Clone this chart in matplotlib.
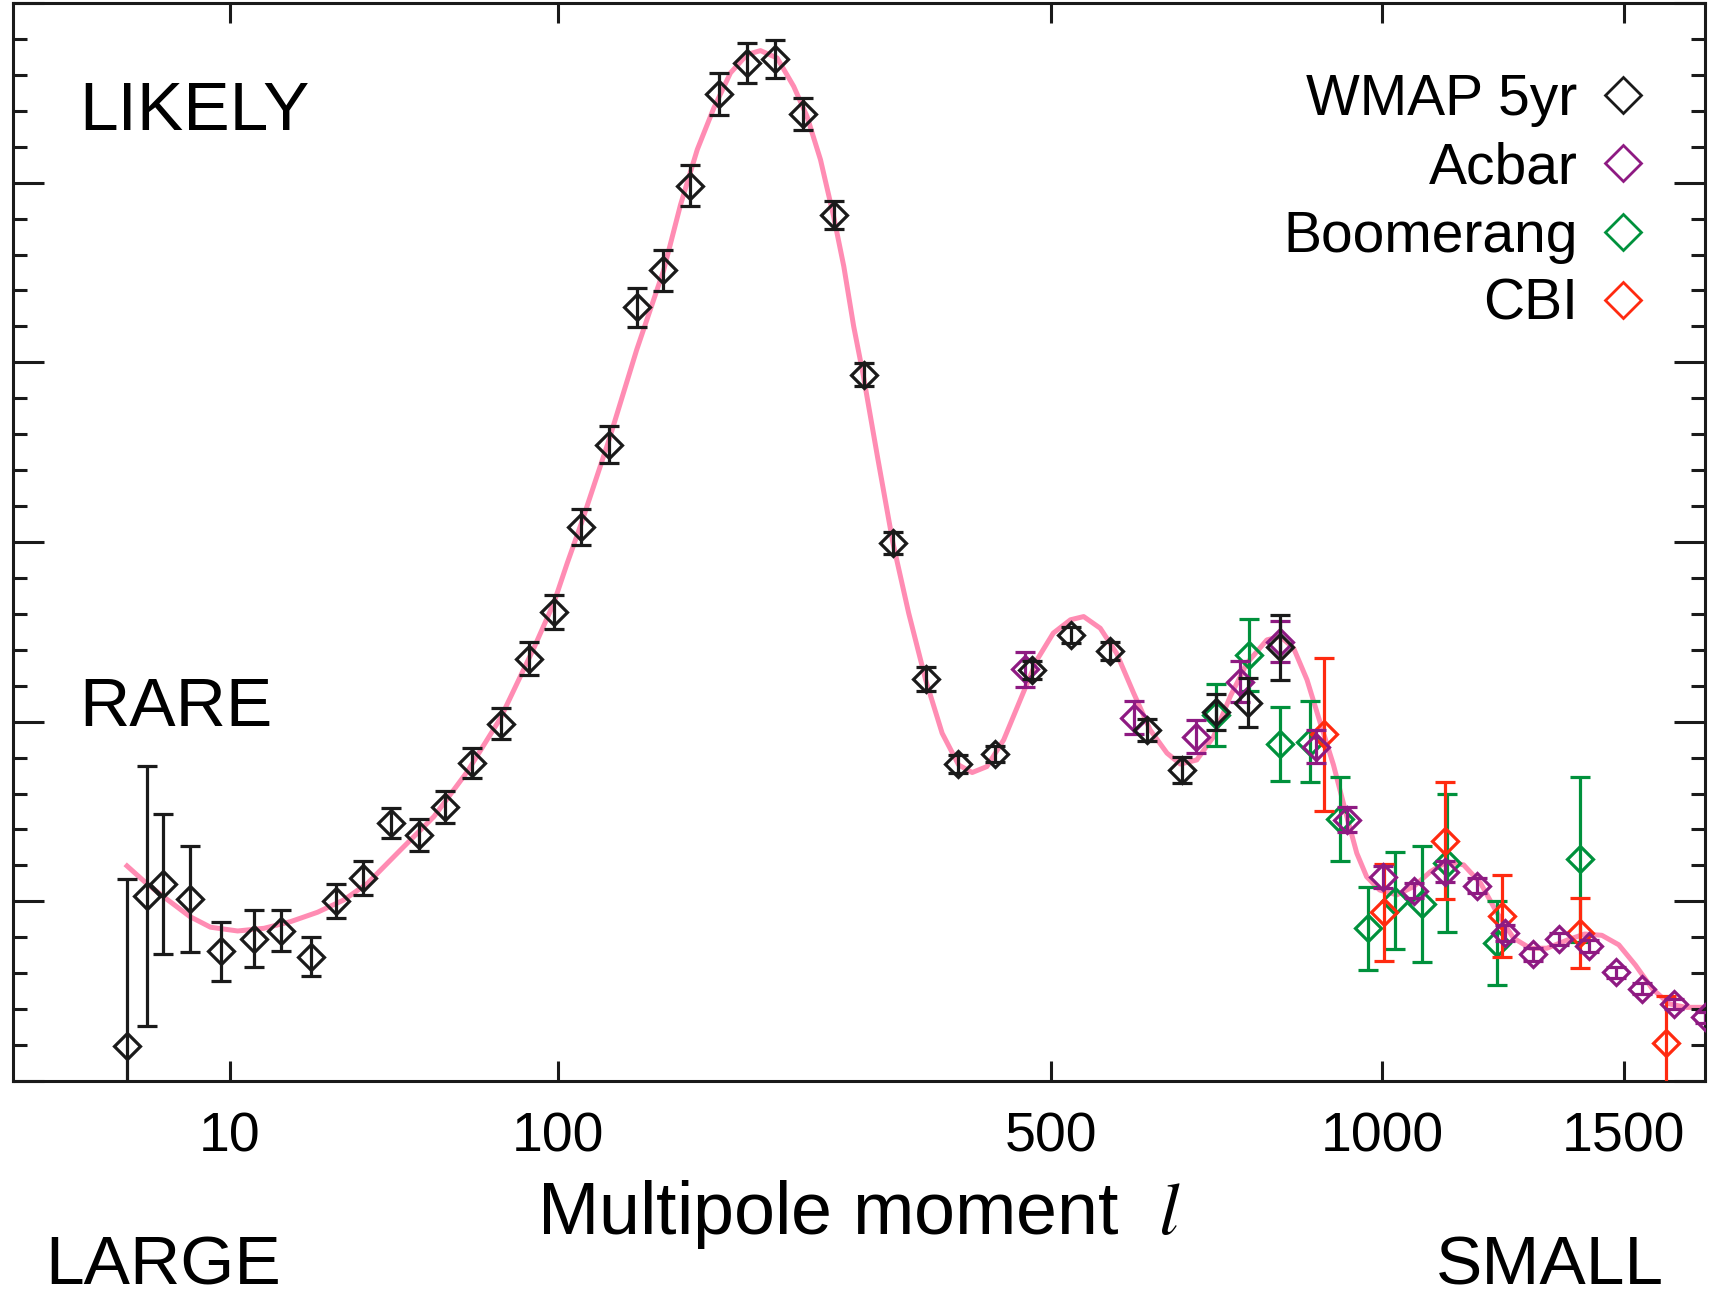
import matplotlib
matplotlib.use("Agg")
import matplotlib.pyplot as plt
import numpy as np
from matplotlib.lines import Line2D
from matplotlib.ticker import FixedLocator, NullLocator, MultipleLocator

plt.rcParams['font.family'] = ['Liberation Sans', 'DejaVu Sans']
plt.rcParams['mathtext.fontset'] = 'stix'

# WMAP 5yr binned points (multipole l, power in uK^2, error)
wmap_l = [2, 3, 4, 6, 9, 13, 17, 22, 27, 33, 40, 48, 56, 65, 76, 87, 98, 111, 125, 140,
          155, 172, 191, 210, 231, 253, 278, 304, 331, 363, 396, 435, 478, 525, 574, 624,
          674, 723, 773, 824]
wmap_d = [197, 1032, 1097, 1013, 722, 792, 837, 692, 1002, 1132, 1435, 1368, 1527, 1769,
          1988, 2350, 2610, 3083, 3541, 4306, 4512, 4983, 5495, 5666, 5689, 5382, 4820,
          3931, 2994, 2238, 1763, 1821, 2288, 2483, 2391, 1954, 1732, 2056, 2106, 2415]
wmap_err = [927, 724, 388, 296, 165, 160, 114, 107, 94, 95, 84, 88, 89, 84, 86, 93, 97,
            102, 102, 110, 114, 113, 116, 110, 105, 89, 77, 63, 63, 67, 50, 45, 50, 45,
            50, 60, 74, 100, 136, 181]

acbar_l = [469, 606, 694, 760, 824, 884, 937, 1002, 1058, 1118, 1182, 1240, 1299, 1355,
           1420, 1483, 1544, 1621, 1697]
acbar_d = [2292, 2023, 1917, 2223, 2446, 1861, 1455, 1134, 1060, 1165, 1088, 822, 705,
           790, 752, 604, 513, 428, 354]
acbar_err = [98, 93, 90, 113, 115, 93, 71, 60, 40, 58, 40, 45, 35, 35, 35, 30, 30, 30, 30]

boom_l = [723, 774, 824, 873, 924, 974, 1023, 1074, 1122, 1223, 1400]
boom_d = [2038, 2372, 1875, 1889, 1456, 850, 1004, 986, 1212, 767, 1233]
boom_err = [172, 202, 205, 226, 234, 232, 270, 322, 383, 235, 460]

cbi_l = [897, 1003, 1118, 1233, 1400, 1602]
cbi_d = [1930, 939, 1338, 920, 824, 212]
cbi_err = [425, 271, 325, 228, 197, 260]

# best-fit model curve
curve_l = [2, 3, 4, 6, 7.9, 10.9, 14.4, 18.5, 23.3, 28.7, 34.1, 42.6, 52.4, 63.4, 75.6,
           89.2, 98, 104.2, 111, 125, 140, 155.6, 165.9, 176.5, 187.4, 198.7, 210.4,
           220.1, 232.6, 245.4, 256, 267, 278, 286.7, 295.3, 303.7, 316.6, 331, 346,
           362.6, 379.2, 396.3, 410.6, 426.5, 445.2, 464, 483.5, 503, 524, 540.5, 561.7,
           583, 605.8, 628.4, 651.9, 670.9, 694.8, 719.7, 744.9, 770.8, 802.3, 824,
           845.7, 868, 890.6, 913, 936.5, 953.9, 971.5, 995, 1026.6, 1058, 1090, 1122,
           1155, 1189, 1223, 1257, 1292, 1328, 1374, 1411, 1450, 1489, 1528, 1568, 1609,
           1650, 1697]
curve_d = [1197, 1097, 1026, 915, 856, 835, 850, 887, 939, 1008, 1100, 1286, 1472, 1722,
           2019, 2409, 2660, 2882, 3105, 3569, 4070, 4512, 4877, 5184, 5416, 5611, 5713,
           5735, 5694, 5536, 5369, 5128, 4812, 4534, 4200, 3931, 3476, 2994, 2604, 2233,
           1936, 1759, 1717, 1750, 1899, 2121, 2344, 2493, 2567, 2585, 2520, 2381, 2159,
           1954, 1825, 1764, 1787, 1917, 2140, 2326, 2455, 2474, 2409, 2233, 1991, 1760,
           1470, 1268, 1137, 1063, 1036, 1082, 1165, 1221, 1203, 1101, 934, 795, 739, 739,
           786, 818, 811, 758, 645, 513, 429, 410, 410]

tick_vals = [10, 100, 500, 1000, 1500]
legend_labels = ['WMAP 5yr', 'Acbar', 'Boomerang', 'CBI']

BLACK = '#1a1a1a'
PURPLE = '#8e1a82'
GREEN = '#00913c'
RED = '#ff2a10'
PINK = '#ff8cb3'


def fwd(x):
    x = np.asarray(x, dtype=float)
    return np.sign(x) * np.abs(x) ** 0.4


def inv(y):
    y = np.asarray(y, dtype=float)
    return np.sign(y) * np.abs(y) ** 2.5


fig = plt.figure(figsize=(17.1, 12.92), dpi=100)
ax = fig.add_axes([13 / 1710, 1 - 1081 / 1292, 1692 / 1710, 1078 / 1292])
ax.set_xscale('function', functions=(fwd, inv))
ax.set_xlim(0, 1697)
ax.set_ylim(0, 6000)

ax.plot(curve_l, curve_d, color=PINK, lw=3.6, zorder=1)

series = [(boom_l, boom_d, boom_err, GREEN, 2),
          (cbi_l, cbi_d, cbi_err, RED, 3),
          (acbar_l, acbar_d, acbar_err, PURPLE, 4),
          (wmap_l, wmap_d, wmap_err, BLACK, 5)]
for l, d, e, c, z in series:
    ax.errorbar(l, d, yerr=e, fmt='D', mfc='none', mec=c, ecolor=c, ms=13, mew=2.3,
                elinewidth=2.3, capsize=7, capthick=2.3, zorder=z)

ax.xaxis.set_major_locator(FixedLocator(tick_vals))
ax.set_xticklabels([str(v) for v in tick_vals])
ax.xaxis.set_minor_locator(NullLocator())
ax.yaxis.set_major_locator(MultipleLocator(1000))
ax.yaxis.set_minor_locator(MultipleLocator(200))
ax.tick_params(axis='both', which='both', direction='in', top=True, right=True,
               labelleft=False, color=BLACK)
ax.tick_params(axis='y', which='major', length=22, width=2.2)
ax.tick_params(axis='y', which='minor', length=10, width=2.2)
ax.tick_params(axis='x', which='major', length=14.4, width=2.2, labelsize=40, pad=22)
for s in ax.spines.values():
    s.set_linewidth(2.2)
    s.set_color(BLACK)

handles = [Line2D([], [], ls='none', marker='D', ms=18, mfc='none', mec=c, mew=2)
           for c in [BLACK, PURPLE, GREEN, RED]]
ax.legend(handles, legend_labels, loc='upper right', bbox_to_anchor=(0.9685, 0.935),
          markerfirst=False, frameon=False, fontsize=41, handlelength=1.0,
          handletextpad=0.30, labelspacing=0.25, borderpad=0, borderaxespad=0)

ax.text(0.039, 0.8825, 'LIKELY', transform=ax.transAxes, fontsize=50,
        va='baseline', ha='left')
ax.text(0.039, 0.329, 'RARE', transform=ax.transAxes, fontsize=50,
        va='baseline', ha='left')
fig.text(0.0265, 0.0055, 'LARGE', fontsize=50, va='baseline', ha='left')
fig.text(0.9728, 0.0055, 'SMALL', fontsize=50, va='baseline', ha='right')

ax.set_xlabel('Multipole moment  $l$', fontsize=53)
ax.xaxis.set_label_coords(0.5, -0.090)

fig.savefig('out.png', dpi=100)
